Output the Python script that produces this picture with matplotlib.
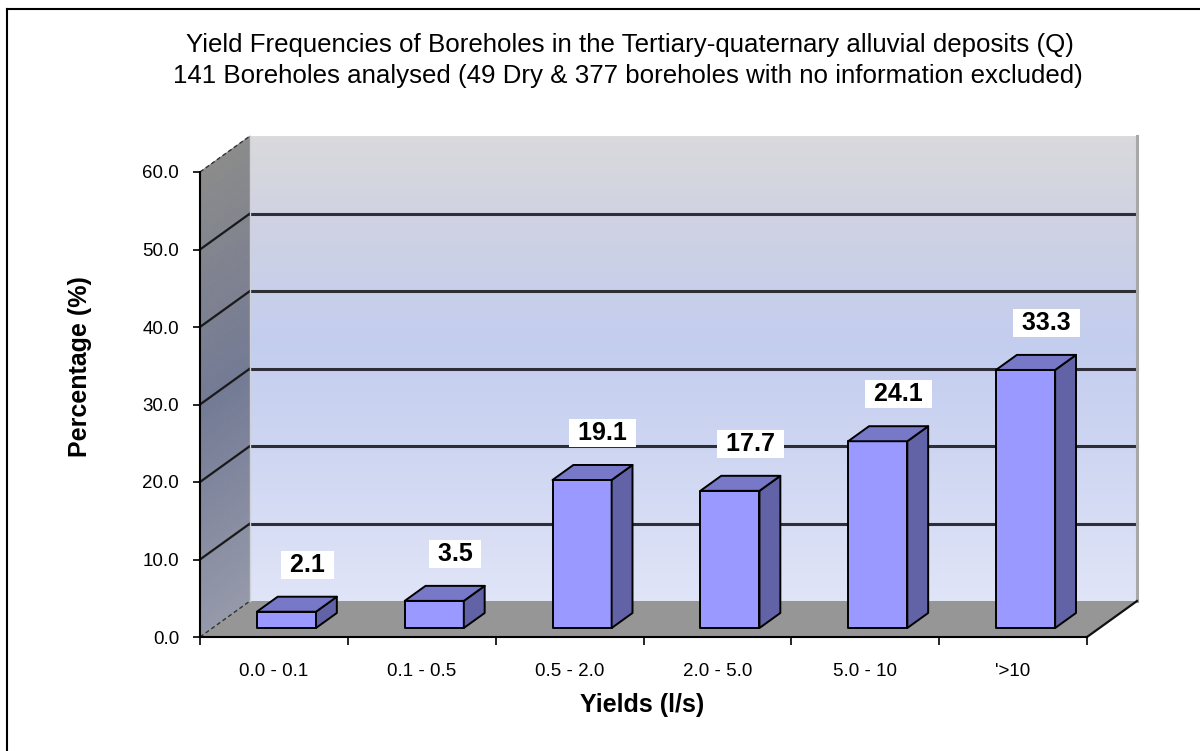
import matplotlib
matplotlib.use('Agg')
import matplotlib.pyplot as plt
import numpy as np
from matplotlib.patches import Polygon
from matplotlib.colors import LinearSegmentedColormap
from matplotlib.lines import Line2D

# ---------------- data ----------------
categories = ['0.0 - 0.1', '0.1 - 0.5', '0.5 - 2.0', '2.0 - 5.0', '5.0 - 10', "'>10"]
values = [2.1, 3.5, 19.1, 17.7, 24.1, 33.3]
yticks = [0, 10, 20, 30, 40, 50, 60]
ytick_labels = ['0.0', '10.0', '20.0', '30.0', '40.0', '50.0', '60.0']
title_lines = ['Yield Frequencies of Boreholes in the Tertiary-quaternary alluvial deposits (Q)',
               '141 Boreholes analysed (49 Dry & 377 boreholes with no information excluded)']
xlabel = 'Yields (l/s)'
ylabel = 'Percentage (%)'

plt.rcParams['font.family'] = ['Liberation Sans', 'DejaVu Sans']

W, H = 1200, 751
fig = plt.figure(figsize=(12, 7.51), dpi=100)
ax = fig.add_axes([200 / W, (H - 637) / H, 887 / W, 465 / H])
ncat = len(categories)
ymax = yticks[-1]

# depth vector (data units) for the pseudo-3D projection
DX = 50 / (887 / ncat)
DY = 36 / (465 / ymax)


def P(x, y, d):
    return (x + d * DX, y + d * DY)


def poly(pts, **kw):
    p = Polygon(pts, closed=True, clip_on=False, **kw)
    ax.add_patch(p)
    return p


# ---------------- walls ----------------
back_cmap = LinearSegmentedColormap.from_list('back', [
    (0.0, '#e0e4f7'), (0.33, '#cdd5f1'), (0.55, '#c3cdee'), (0.8, '#cdd1e3'), (1.0, '#d9d9db')])
side_cmap = LinearSegmentedColormap.from_list('side', [
    (0.0, '#9599aa'), (0.5, '#737a94'), (1.0, '#8b8b8b')])
N = 150
ys = np.linspace(0, ymax, N + 1)
for k in range(N):
    t = (k + 0.5) / N
    c = back_cmap(t)
    poly([P(0, ys[k], 1), P(ncat, ys[k], 1), P(ncat, ys[k + 1], 1), P(0, ys[k + 1], 1)],
         facecolor=c, edgecolor=c, lw=0.6, zorder=0)
    c2 = side_cmap(t)
    poly([P(0, ys[k], 0), P(0, ys[k], 1), P(0, ys[k + 1], 1), P(0, ys[k + 1], 0)],
         facecolor=c2, edgecolor=c2, lw=0.6, zorder=0)

# floor
poly([P(0, 0, 0), P(ncat, 0, 0), P(ncat, 0, 1), P(0, 0, 1)], facecolor='#969696', edgecolor='none', zorder=0.5)


def seg(p1, p2, **kw):
    ln = Line2D([p1[0], p2[0]], [p1[1], p2[1]], clip_on=False, **kw)
    ax.add_line(ln)


# gridlines
for v in yticks[1:-1]:
    seg(P(0, v, 1), P(ncat, v, 1), color='#2e2e38', lw=2.2, zorder=1)
    seg(P(0, v, 0), P(0, v, 1), color='#1a1a1a', lw=1.6, zorder=1)
seg(P(0, ymax, 0), P(0, ymax, 1), color='#333333', lw=1.0, ls=(0, (3, 2)), zorder=1)
seg(P(0, 0, 0), P(0, 0, 1), color='#333333', lw=1.0, ls=(0, (3, 2)), zorder=1)
seg(P(0, 0, 1), P(0, ymax, 1), color='#d0d0d8', lw=1.0, zorder=1)
seg(P(ncat, 0, 1), P(ncat, ymax, 1), color='#a8a8a8', lw=2.2, zorder=1)
seg(P(ncat, 0, 0), P(ncat, 0, 1), color='#111111', lw=1.6, zorder=1)

# ---------------- bars ----------------
d0, d1 = 0.25, 0.667
hw = 0.2
for i, v in enumerate(values):
    xc = i + 0.5
    x0, x1 = xc - hw, xc + hw
    ekw = dict(edgecolor='black', lw=1.4, joinstyle='round', zorder=3)
    poly([P(x0, 0, d0), P(x1, 0, d0), P(x1, v, d0), P(x0, v, d0)], facecolor='#9999ff', **ekw)
    poly([P(x1, 0, d0), P(x1, 0, d1), P(x1, v, d1), P(x1, v, d0)], facecolor='#6262a6', **ekw)
    poly([P(x0, v, d0), P(x1, v, d0), P(x1, v, d1), P(x0, v, d1)], facecolor='#7878c8', **ekw)
    lx, ly = P(xc, v + 4.1, d1)
    ax.text(lx, ly, ' %.1f ' % v, ha='center', va='center', fontsize=18, fontweight='bold',
            zorder=5, bbox=dict(boxstyle='square,pad=0.08', facecolor='white', edgecolor='none'))

# ---------------- axes ----------------
ax.set_xlim(0, ncat)
ax.set_ylim(0, ymax)
ax.patch.set_visible(False)
for s in ['top', 'right']:
    ax.spines[s].set_visible(False)
ax.spines['left'].set_linewidth(1.5)
ax.spines['bottom'].set_linewidth(1.5)
ax.spines['left'].set_zorder(2)
ax.spines['bottom'].set_zorder(2)
ax.set_yticks(yticks)
ax.set_yticklabels(ytick_labels)
ax.set_xticks(np.arange(ncat + 1))
ax.set_xticklabels([])
ax.set_xticks(np.arange(ncat) + 0.5, minor=True)
ax.set_xticklabels(categories, minor=True)
ax.tick_params(axis='y', length=5, width=1.2, pad=10, labelsize=13.5)
ax.tick_params(axis='x', which='major', length=6, width=1.2)
ax.tick_params(axis='x', which='minor', length=0, pad=18.5, labelsize=13.5)

# ---------------- texts ----------------
tf = ['Liberation Sans', 'DejaVu Sans']
fig.text(630 / W, 1 - 45 / H, title_lines[0], ha='center', va='center', fontsize=18.6, family=tf)
fig.text(628 / W, 1 - 76 / H, title_lines[1], ha='center', va='center', fontsize=18.6, family=tf)
fig.text(642 / W, 1 - 705 / H, xlabel, ha='center', va='center', fontsize=18, fontweight='bold')
fig.text(80 / W, 1 - 367 / H, ylabel, ha='center', va='center', fontsize=18, fontweight='bold', rotation=90)

# outer frame (left and top edges visible)
fig.add_artist(Line2D([7 / W, 7 / W], [0, 1 - 9 / H], transform=fig.transFigure, color='black', lw=1.5))
fig.add_artist(Line2D([7 / W, 1], [1 - 9 / H, 1 - 9 / H], transform=fig.transFigure, color='black', lw=1.5))

fig.savefig('out.png', dpi=100)
